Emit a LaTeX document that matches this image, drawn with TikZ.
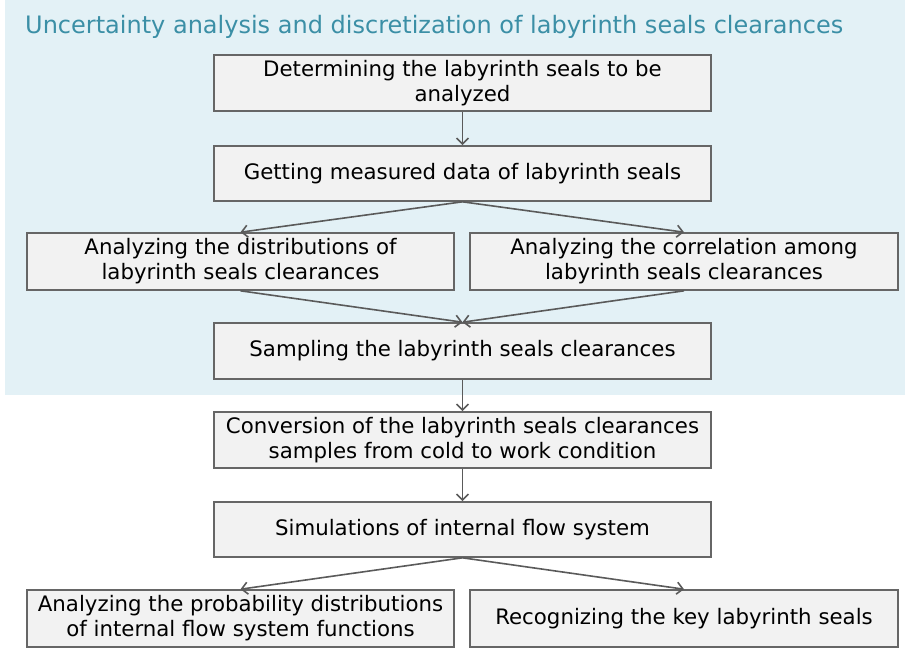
\documentclass[tikz,border=0pt]{standalone}
\usepackage{fontspec}
\setmainfont{DejaVu Sans}
\usetikzlibrary{arrows.meta}
\definecolor{bgblue}{HTML}{E3F1F6}
\definecolor{titleteal}{HTML}{3B8FA6}
\definecolor{boxfill}{HTML}{F2F2F2}
\definecolor{boxline}{HTML}{666666}
\definecolor{arrowgray}{HTML}{5A5A5A}
\begin{document}
\begin{tikzpicture}[x=1pt,y=-1pt,
 box/.style={draw=boxline, fill=boxfill, line width=1.6pt, inner sep=0pt, align=center, font=\fontsize{21.3}{25}\selectfont},
 conn/.style={draw=arrowgray, line width=1.6pt, -{Straight Barb[length=6pt,width=12pt]}}]
\useasboundingbox (0,0) rectangle (905,649);
\fill[bgblue] (5,0) rectangle (905,395);
\node[anchor=base west, text=titleteal, inner sep=0pt, font=\fontsize{24}{28}\selectfont] (title) at (25,33) {Uncertainty analysis and discretization of labyrinth seals clearances};
\node[box, minimum width=497pt, minimum height=56pt] (b1) at (462.5,83) {Determining the labyrinth seals to be\\analyzed};
\node[box, minimum width=497pt, minimum height=55pt] (b2) at (462.5,173.5) {Getting measured data of labyrinth seals};
\node[box, minimum width=427pt, minimum height=57pt] (b3l) at (240.5,261.5) {Analyzing the distributions of\\labyrinth seals clearances};
\node[box, minimum width=428pt, minimum height=57pt] (b3r) at (684,261.5) {Analyzing the correlation among\\labyrinth seals clearances};
\node[box, minimum width=497pt, minimum height=56pt] (b4) at (462.5,351) {Sampling the labyrinth seals clearances};
\node[box, minimum width=497pt, minimum height=56pt] (b5) at (462.5,440) {Conversion of the labyrinth seals clearances\\samples from cold to work condition};
\node[box, minimum width=497pt, minimum height=55pt] (b6) at (462.5,529.5) {Simulations of internal flow system};
\node[box, minimum width=427pt, minimum height=57pt] (b7l) at (240.5,618.5) {Analyzing the probability distributions\\of internal flow system functions};
\node[box, minimum width=428pt, minimum height=57pt] (b7r) at (684,618.5) {Recognizing the key labyrinth seals};
\draw[conn] (b1.south) -- (b2.north);
\draw[conn] (b2.south) -- (b3l.north);
\draw[conn] (b2.south) -- (b3r.north);
\draw[conn] (b3l.south) -- (b4.north);
\draw[conn] (b3r.south) -- (b4.north);
\draw[conn] (b4.south) -- (b5.north);
\draw[conn] (b5.south) -- (b6.north);
\draw[conn] (b6.south) -- (b7l.north);
\draw[conn] (b6.south) -- (b7r.north);
\end{tikzpicture}
\end{document}
